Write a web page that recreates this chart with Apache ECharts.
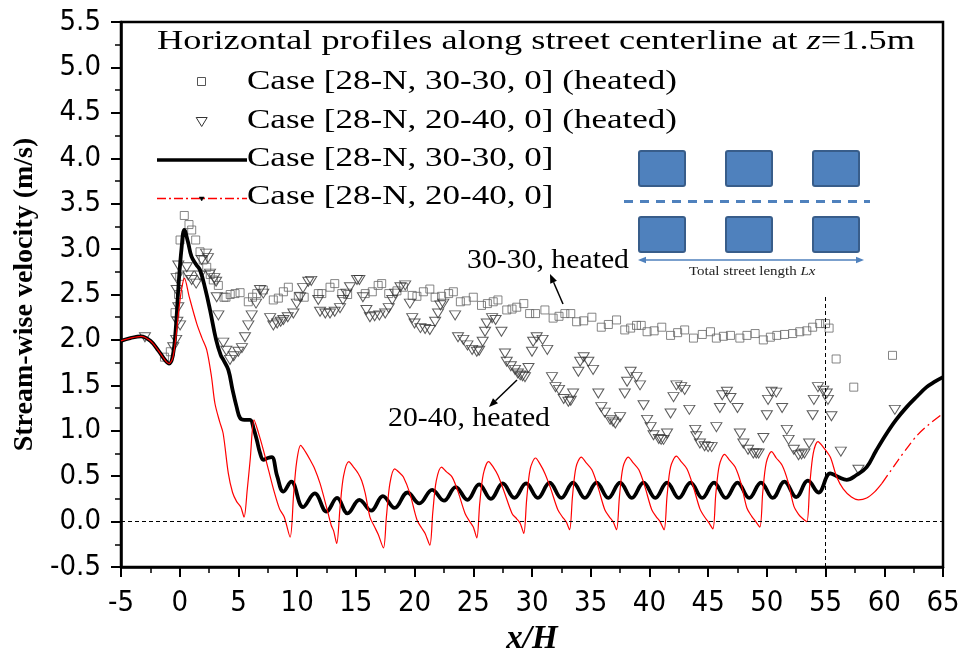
<!DOCTYPE html>
<html>
<head>
<meta charset="utf-8">
<script src="https://cdn.jsdelivr.net/npm/echarts@6/dist/echarts.min.js"></script>
<style>html,body{margin:0;padding:0;background:#fff}#c{width:973px;height:656px}</style>
</head>
<body>
<div id="c"></div>
<script>
// ---------------- DATA ----------------
const xTicks = [-5, 0, 5, 10, 15, 20, 25, 30, 35, 40, 45, 50, 55, 60, 65];
const yTicks = [-0.5, 0, 0.5, 1, 1.5, 2, 2.5, 3, 3.5, 4, 4.5, 5, 5.5];

const legendTitle = 'Horizontal profiles along street centerline at z=1.5m';
const seriesNames = [
  'Case [28-N, 30-30, 0] (heated)',
  'Case [28-N, 20-40, 0] (heated)',
  'Case [28-N, 30-30, 0]',
  'Case [28-N, 20-40, 0]'
];

// Case [28-N, 30-30, 0] (heated) : squares
const heated3030 = [
  [-1.3,1.81],[-0.8,1.87],[-0.4,2.3],[-0.1,2.5],[0.0,2.7],[0.03,3.1],[0.39,3.37],[0.79,3.27],[1.02,3.21],[1.36,3.1],
  [1.73,2.97],[2.0,2.88],[2.3,2.8],[2.6,2.72],[2.86,2.66],[3.29,2.6],[3.77,2.47],[3.94,2.47],[4.3,2.5],[4.71,2.51],
  [5.14,2.52],[5.84,2.42],[6.2,2.47],[6.56,2.51],[7.12,2.55],[7.97,2.44],[8.4,2.46],[8.83,2.53],[9.25,2.58],[10.1,2.48],
  [10.6,2.47],[11.8,2.51],[12.1,2.51],[12.8,2.58],[13.2,2.62],[13.8,2.51],[14.3,2.5],[15.8,2.51],[16.4,2.53],[16.9,2.60],
  [17.2,2.62],[17.8,2.51],[18.5,2.54],[19.05,2.58],[19.8,2.49],[20.2,2.48],[20.75,2.53],[21.3,2.56],[21.75,2.47],[22.3,2.48],
  [22.9,2.51],[23.3,2.53],[23.9,2.42],[24.4,2.43],[25.0,2.47],[25.7,2.38],[26.2,2.4],[26.7,2.42],[27.1,2.44],[27.85,2.33],
  [28.3,2.34],[28.7,2.36],[29.3,2.40],[29.8,2.29],[30.3,2.29],[31.1,2.33],[31.8,2.24],[32.3,2.26],[32.8,2.29],[33.3,2.29],
  [33.8,2.20],[34.4,2.21],[35.1,2.25],[35.9,2.14],[36.5,2.17],[37.2,2.22],[37.9,2.11],[38.4,2.13],[38.9,2.16],[39.3,2.16],
  [39.8,2.09],[40.4,2.1],[41.05,2.14],[41.8,2.05],[42.4,2.08],[43.0,2.11],[43.75,2.02],[44.5,2.06],[45.2,2.09],[45.7,2.02],
  [46.3,2.04],[46.9,2.05],[47.7,2.02],[48.3,2.05],[49.0,2.07],[49.7,2.00],[50.3,2.03],[50.85,2.05],[51.5,2.06],[52.2,2.07],
  [52.8,2.09],[53.4,2.1],[53.9,2.14],[54.5,2.18],[55.0,2.18],[55.3,2.13],[55.9,1.79],[57.4,1.48],[60.7,1.83]
];

// Case [28-N, 20-40, 0] (heated) : down triangles
const heated2040 = [
  [-2.96,2.03],[-0.55,1.92],[-0.3,2.0],[-0.2,2.2],[-0.12,2.36],[-0.26,2.55],[-0.26,2.68],[-0.12,2.82],[0.03,2.16],[0.6,2.80],
  [0.73,2.71],[1.02,2.66],[1.4,2.62],[1.73,2.71],[1.87,2.88],[2.24,2.95],[2.4,2.9],[2.58,2.73],[2.95,2.68],[3.1,2.64],
  [3.15,2.47],[3.29,2.27],[3.71,1.97],[3.97,1.88],[4.28,1.78],[4.6,1.82],[4.99,1.87],[5.3,1.91],[5.56,2.03],[5.84,2.16],
  [6.13,2.27],[6.5,2.4],[6.84,2.55],[7.12,2.51],[7.7,2.24],[7.97,2.16],[8.3,2.18],[8.6,2.2],[8.83,2.22],[9.2,2.25],
  [9.68,2.29],[9.97,2.40],[10.25,2.47],[10.5,2.57],[10.95,2.64],[11.2,2.65],
  [11.8,2.44],[11.95,2.31],[12.4,2.29],[12.8,2.29],[13.2,2.31],[13.65,2.35],[13.9,2.44],[14.2,2.51],[14.5,2.58],[15.1,2.66],[15.3,2.66],
  [15.6,2.47],[15.9,2.33],[16.2,2.25],[16.6,2.26],[17.0,2.27],[17.5,2.29],[17.8,2.35],[18.1,2.44],[18.35,2.51],[18.8,2.58],[19.2,2.60],
  [19.6,2.40],[19.8,2.24],[20.0,2.18],[20.5,2.13],[20.9,2.12],[21.3,2.11],[21.75,2.20],[22.0,2.29],[22.2,2.38],[22.45,2.40],[23.45,2.27],
  [23.7,2.03],[24.15,2.00],[24.5,1.94],[24.9,1.89],[25.3,1.87],[25.5,1.88],[25.8,1.98],[26.0,2.09],[26.15,2.18],[26.6,2.24],[26.9,2.22],[27.4,2.09],
  [27.7,1.85],[27.85,1.76],[28.2,1.71],[28.55,1.67],[28.8,1.63],[29.0,1.61],[29.2,1.6],[29.4,1.59],[29.7,1.69],[30.0,1.87],[30.1,1.98],[30.4,2.03],[30.9,2.0],[31.3,1.89],
  [31.7,1.59],[32.0,1.48],[32.3,1.45],[32.7,1.35],[33.1,1.32],[33.3,1.33],[33.5,1.41],[33.95,1.65],[34.1,1.76],[34.4,1.81],[34.8,1.76],[35.2,1.67],
  [35.65,1.41],[35.9,1.26],[36.2,1.2],[36.65,1.12],[36.9,1.1],[37.1,1.08],[37.5,1.15],[37.9,1.41],[38.1,1.54],[38.4,1.65],[38.9,1.59],[39.2,1.50],
  [39.5,1.28],[39.8,1.12],[40.1,1.04],[40.35,0.95],[40.8,0.91],[41.0,0.9],[41.2,0.90],[41.5,0.97],[41.8,1.19],[42.05,1.37],[42.3,1.50],[42.7,1.48],[43.0,1.45],[43.4,1.23],
  [43.9,1.01],[44.0,0.94],[44.3,0.86],[44.7,0.83],[45.0,0.82],[45.3,0.82],[45.7,1.04],[46.0,1.25],[46.2,1.39],[46.6,1.43],[46.9,1.36],[47.5,1.25],
  [47.7,0.97],[48.0,0.86],[48.4,0.79],[48.85,0.75],[49.1,0.75],[49.3,0.75],[49.7,0.92],[50.0,1.17],[50.1,1.34],[50.4,1.43],[50.8,1.42],[51.3,1.25],
  [51.7,1.01],[51.85,0.90],[52.3,0.79],[52.7,0.73],[52.95,0.74],[53.2,0.75],[53.6,0.86],[53.9,1.17],[54.0,1.34],[54.35,1.48],[54.8,1.44],[55.1,1.41],
  [55.2,1.34],[55.5,1.16],[56.3,0.77],[57.8,0.57],[60.9,1.23]
];

// Case [28-N, 30-30, 0] : thick black line
const unheated3030 = [
  [-5,1.99],[-4.2,2.02],[-3.3,2.04],[-2.5,1.99],[-1.8,1.88],[-1.2,1.77],[-0.9,1.74],[-0.6,1.82],[-0.35,2.1],[-0.1,2.6],
  [0.15,3.0],[0.39,3.21],[0.7,3.08],[1.0,2.92],[1.4,2.83],[1.73,2.77],[2.2,2.55],[2.58,2.33],[3.1,2.0],[3.5,1.83],
  [3.72,1.78],[4.14,1.67],[4.5,1.45],[4.85,1.26],[5.14,1.14],[5.5,1.12],[5.99,1.12],[6.3,1.02],[6.56,0.90],[6.85,0.75],
  [7.12,0.68],[7.5,0.70],[7.84,0.71],[8.3,0.5],[8.83,0.33],[9.5,0.44],[10.5,0.16],[11.5,0.31],[12.5,0.11],[13.4,0.26],
  [14.3,0.09],[15.3,0.24],[16.3,0.12],[17.3,0.28],[18.3,0.15],[19.4,0.32],[20.4,0.20],[21.5,0.35],[22.5,0.23],[23.5,0.38],
  [24.5,0.24],[25.5,0.41],[26.5,0.25],[27.5,0.42],[28.5,0.26],[29.5,0.42],[30.5,0.26],[31.5,0.43],[32.5,0.26],[33.5,0.43],
  [34.5,0.26],[35.5,0.43],[36.5,0.26],[37.5,0.43],[38.5,0.26],[39.5,0.43],[40.5,0.26],[41.5,0.43],[42.5,0.26],[43.5,0.43],
  [44.5,0.26],[45.5,0.43],[46.5,0.26],[47.5,0.43],[48.5,0.26],[49.5,0.43],[50.5,0.26],[51.5,0.44],[52.5,0.27],[53.5,0.45],
  [54.4,0.32],[55.4,0.53],[56.1,0.49],[56.8,0.46],[57.6,0.51],[58.5,0.60],[59.3,0.78],[60.2,0.97],[61.0,1.12],[61.9,1.26],
  [62.8,1.38],[63.6,1.48],[64.3,1.54],[65,1.59]
];

// Case [28-N, 20-40, 0] : thin red line (dense part, then dash-dot tail)
const unheated2040 = [
  [-5,1.99],[-4.2,2.02],[-3.3,2.04],[-2.5,1.99],[-1.8,1.88],[-1.2,1.77],[-0.9,1.74],[-0.6,1.8],[-0.35,2.0],[-0.1,2.3],
  [0.15,2.55],[0.4,2.68],[0.8,2.48],[1.45,2.18],[1.9,2.02],[2.3,1.89],[2.7,1.6],[3.0,1.3],[3.4,1.1],[3.7,0.97],
  [4.14,0.53],[4.5,0.32],[4.85,0.22],[5.2,0.16],[5.48,0.05],[5.75,0.35],[6.0,0.68],[6.33,1.12],[6.7,0.98],[7.12,0.79],
  [7.6,0.55],[8.0,0.35],[8.5,0.14],[8.9,0.05],[9.4,-0.17],[9.7,0.3],[9.95,0.65],[10.3,0.84],[10.7,0.77],[11.1,0.68],
  [11.5,0.58],[11.95,0.42],[12.5,0.16],[12.9,-0.04],[13.1,-0.1],[13.37,-0.24],[13.65,0.15],[13.95,0.5],[14.4,0.66],[14.8,0.6],
  [15.2,0.53],[15.5,0.45],[15.8,0.31],[16.2,0.05],[16.6,-0.06],[16.9,-0.14],[17.35,-0.29],[17.6,0.05],[17.9,0.42],[18.3,0.58],
  [18.7,0.54],[19.05,0.49],[19.6,0.31],[20.2,0.02],[20.6,-0.07],[20.9,-0.13],[21.3,-0.26],[21.55,0.1],[21.85,0.45],[22.3,0.60],
  [22.7,0.55],[23.2,0.49],[23.7,0.33],[24.3,0.09],[24.7,0.0],[25.0,-0.06],[25.3,-0.18],[25.55,0.2],[25.85,0.52],[26.3,0.66],
  [26.7,0.6],[27.1,0.51],[27.6,0.34],[28.3,0.09],[28.7,0.03],[29.0,-0.02],[29.3,-0.13],[29.55,0.25],[29.85,0.58],[30.3,0.70],
  [30.7,0.63],[31.1,0.53],[31.6,0.36],[32.2,0.13],[32.6,0.05],[32.9,0.0],[33.2,-0.09],[33.45,0.28],[33.75,0.6],[34.2,0.71],
  [34.6,0.65],[35.1,0.57],[35.6,0.39],[36.2,0.13],[36.6,0.05],[36.9,0.0],[37.2,-0.09],[37.45,0.28],[37.75,0.6],[38.2,0.71],
  [38.6,0.65],[39.1,0.57],[39.6,0.39],[40.2,0.13],[40.6,0.05],[40.9,0.0],[41.25,-0.09],[41.5,0.28],[41.8,0.6],[42.3,0.72],
  [42.7,0.66],[43.2,0.58],[43.7,0.4],[44.3,0.14],[44.7,0.05],[45.0,0.0],[45.4,-0.08],[45.65,0.3],[45.95,0.62],[46.4,0.74],
  [46.8,0.68],[47.3,0.6],[47.8,0.42],[48.3,0.15],[48.7,0.06],[49.0,0.01],[49.4,-0.06],[49.65,0.32],[49.95,0.65],[50.4,0.77],
  [50.8,0.7],[51.3,0.62],[51.8,0.44],[52.3,0.17],[52.7,0.08],[53.0,0.04],[53.4,0.0],[53.65,0.4],[53.95,0.75],[54.35,0.88],
  [54.8,0.82],[55.4,0.71],[55.95,0.49],[56.5,0.36],[57.2,0.27],[57.8,0.24],[58.5,0.26],[59.2,0.33],[59.8,0.42]
];
const unheated2040Tail = [
  [59.8,0.42],[60.5,0.55],[61.2,0.68],[62.0,0.82],[62.8,0.95],[63.8,1.07],[65,1.19]
];

const streetEnd = 55;      // x/H of the street end (vertical dashed line)
const streetEndTop = 2.5;  // upper end of that dashed line

// ---------------- CHART ----------------
const chart = echarts.init(document.getElementById('c'), null, {renderer: 'canvas'});

const tickFont = "'Liberation Sans Narrow','Arial Narrow','DejaVu Sans Condensed','Liberation Sans',Arial,sans-serif";
const serif = "'Liberation Serif','Times New Roman',serif";

const mctx = document.createElement('canvas').getContext('2d');
function fitScale(text, font, w) { mctx.font = font; return w / mctx.measureText(text).width; }

const legFont = '27px ' + serif;
const titleScale = fitScale(legendTitle, legFont, 760);
const rowScale = fitScale(seriesNames[0], legFont, 430);

function legText(txt, x, y, sc) {
  return {type: 'text', x: x, y: y, scaleX: sc, z: 100,
    style: {text: txt, font: legFont, fill: '#000', align: 'left', verticalAlign: 'middle'}};
}
function triDown(cx, cy, w, h, stroke, fill, lw) {
  return {type: 'polygon', z: 100, shape: {points: [[cx - w/2, cy - h/2], [cx + w/2, cy - h/2], [cx, cy + h/2]]},
    style: {fill: fill, stroke: stroke, lineWidth: lw}};
}
const blue = '#4f81bd', blueDark = '#385d8a';
function bldg(x, y) {
  return {type: 'rect', z: 90, shape: {x: x, y: y, width: 46, height: 35, r: 2},
    style: {fill: blue, stroke: blueDark, lineWidth: 2}};
}
function arrow(x1, y1, x2, y2, color, lw, head) {
  const a = Math.atan2(y2 - y1, x2 - x1);
  const bx = x2 - head * Math.cos(a), by = y2 - head * Math.sin(a);
  const px = -Math.sin(a) * head * 0.4, py = Math.cos(a) * head * 0.4;
  return [
    {type: 'line', z: 95, shape: {x1: x1, y1: y1, x2: bx, y2: by}, style: {stroke: color, lineWidth: lw}},
    {type: 'polygon', z: 95, shape: {points: [[x2, y2], [bx + px, by + py], [bx - px, by - py]]}, style: {fill: color}}
  ];
}

const annFont = '27px ' + serif;
const annScale = fitScale('30-30, heated', annFont, 162);
const insetFont = '13px ' + serif;
const insetScale = fitScale('Total street length Lx', insetFont, 128);

const graphics = [
  // legend
  {type: 'text', x: 157, y: 42, scaleX: titleScale, z: 100,
   style: {text: '{n|Horizontal profiles along street centerline at }{i|z}{n|=1.5m}', font: legFont, fill: '#000',
     align: 'left', verticalAlign: 'middle',
     rich: {n: {font: legFont, fill: '#000'}, i: {font: 'italic ' + legFont, fill: '#000'}}}},
  {type: 'rect', z: 100, shape: {x: 197.5, y: 77.5, width: 8, height: 8}, style: {fill: 'none', stroke: '#555', lineWidth: 1}},
  legText(seriesNames[0], 247, 82, rowScale),
  triDown(201.7, 122, 11, 9, '#333', 'none', 1),
  legText(seriesNames[1], 247, 121, rowScale),
  {type: 'line', z: 100, shape: {x1: 157, y1: 160, x2: 247, y2: 160}, style: {stroke: '#000', lineWidth: 3.5}},
  legText(seriesNames[2], 247, 159, rowScale),
  {type: 'line', z: 100, shape: {x1: 157, y1: 198.5, x2: 247, y2: 198.5}, style: {stroke: '#ff0000', lineWidth: 1.3, lineDash: [9, 3, 2, 3]}},
  triDown(201.7, 199, 5, 4, '#000', '#000', 0.5),
  legText(seriesNames[3], 247, 197, rowScale),
  // inset
  bldg(639, 151), bldg(726, 151), bldg(813, 151),
  bldg(639, 217), bldg(726, 217), bldg(813, 217),
  {type: 'line', z: 90, shape: {x1: 624, y1: 201.5, x2: 870, y2: 201.5}, style: {stroke: blue, lineWidth: 3, lineDash: [9, 7]}},
  ...arrow(700, 260, 864, 260, blue, 1.5, 8),
  ...arrow(700, 260, 638, 260, blue, 1.5, 8),
  {type: 'text', x: 689, y: 272, scaleX: insetScale, z: 90,
   style: {text: '{n|Total street length }{i|Lx}', font: insetFont, fill: '#222', align: 'left', verticalAlign: 'middle',
     rich: {n: {font: insetFont, fill: '#222'}, i: {font: 'italic ' + insetFont, fill: '#222'}}}},
  // annotations
  {type: 'text', x: 467, y: 261, scaleX: annScale, z: 95,
   style: {text: '30-30, heated', font: annFont, fill: '#000', align: 'left', verticalAlign: 'middle'}},
  ...arrow(563, 304, 550, 274, '#000', 1.5, 9),
  {type: 'text', x: 388, y: 419, scaleX: annScale, z: 95,
   style: {text: '20-40, heated', font: annFont, fill: '#000', align: 'left', verticalAlign: 'middle'}},
  ...arrow(517, 380, 489, 407, '#000', 1.5, 9)
];

const axisCommon = {
  type: 'value',
  axisLine: {show: true, onZero: false, lineStyle: {color: '#000', width: 2.5}},
  axisTick: {show: true, inside: false, length: 10, lineStyle: {color: '#000', width: 2}},
  minorTick: {show: true, splitNumber: 2, length: 6, lineStyle: {color: '#000', width: 1.5}},
  splitLine: {show: false},
  minorSplitLine: {show: false}
};

const option = {
  animation: false,
  backgroundColor: '#fff',
  grid: {left: 121, right: 30, top: 22, bottom: 89, containLabel: false, outerBoundsMode: 'none',
         show: true, borderColor: '#000', borderWidth: 2.5, backgroundColor: 'transparent'},
  xAxis: Object.assign({}, axisCommon, {
    min: xTicks[0], max: xTicks[xTicks.length - 1], interval: xTicks[1] - xTicks[0],
    axisLabel: {color: '#000', fontSize: 29, fontFamily: tickFont, margin: 22},
    name: '{a|x}{b|/}{a|H}', nameLocation: 'middle', nameGap: 50,
    nameTextStyle: {rich: {a: {fontFamily: serif, fontStyle: 'italic', fontWeight: 'bold', fontSize: 33, color: '#000'},
                            b: {fontFamily: serif, fontStyle: 'italic', fontWeight: 'bold', fontSize: 33, color: '#000'}}}
  }),
  yAxis: Object.assign({}, axisCommon, {
    min: yTicks[0], max: yTicks[yTicks.length - 1], interval: yTicks[1] - yTicks[0],
    axisLabel: {color: '#000', fontSize: 29, fontFamily: tickFont, margin: 20, formatter: v => v.toFixed(1)},
    name: 'Stream-wise velocity (m/s)', nameLocation: 'middle', nameGap: 80, nameRotate: 90,
    nameTextStyle: {fontFamily: serif, fontWeight: 'bold', fontSize: 28, color: '#000'}
  }),
  graphic: graphics,
  series: [
    {name: seriesNames[0], type: 'scatter', data: heated3030, symbol: 'rect', symbolSize: 8,
     itemStyle: {color: 'rgba(0,0,0,0)', borderColor: '#666', borderWidth: 1}, z: 2, silent: true},
    {name: seriesNames[1], type: 'scatter', data: heated2040, symbol: 'triangle', symbolSize: [11, 9], symbolRotate: 180,
     itemStyle: {color: 'rgba(0,0,0,0)', borderColor: '#333', borderWidth: 1}, z: 2, silent: true},
    {name: seriesNames[2], type: 'line', data: unheated3030, showSymbol: false, smooth: 0.4,
     lineStyle: {color: '#000', width: 3.8}, itemStyle: {color: '#000'}, z: 3, silent: true,
     markLine: {silent: true, symbol: 'none', label: {show: false},
       lineStyle: {color: '#000', width: 1, type: [4, 3]},
       data: [{yAxis: 0}, [{coord: [streetEnd, yTicks[0]]}, {coord: [streetEnd, streetEndTop]}]]}},
    {name: seriesNames[3], type: 'line', data: unheated2040, showSymbol: false, smooth: 0.3,
     lineStyle: {color: '#ff0000', width: 1.2}, itemStyle: {color: '#ff0000'}, z: 4, silent: true},
    {name: seriesNames[3] + ' tail', type: 'line', data: unheated2040Tail, showSymbol: false, smooth: 0.3,
     lineStyle: {color: '#ff0000', width: 1.3, type: [10, 4, 2, 4]}, z: 4, silent: true}
  ]
};
chart.setOption(option);
</script>
</body>
</html>
